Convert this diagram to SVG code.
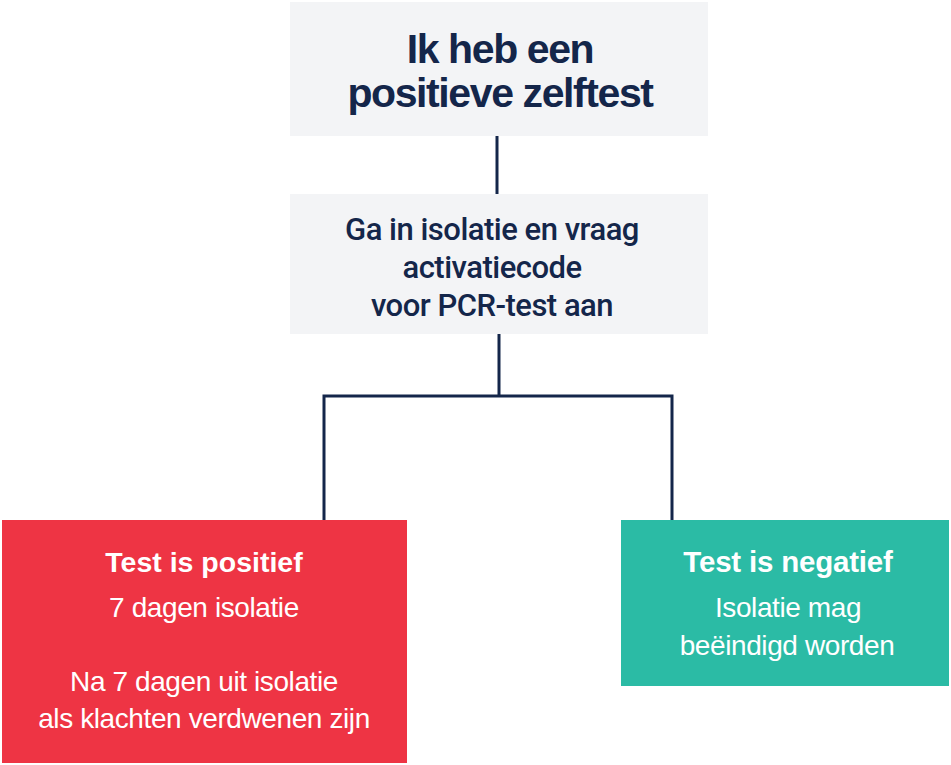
<svg xmlns="http://www.w3.org/2000/svg" width="951" height="765" viewBox="0 0 951 765">
<style>
.gray{fill:#f3f4f6}
.conn{fill:none;stroke:#14264a;stroke-width:3}
.t{font-family:"Liberation Sans",Arial,sans-serif;text-anchor:middle}
.h1{font-size:41px;font-weight:bold;fill:#14264a;letter-spacing:-1.4px}
.h2{font-family:Roboto,"Liberation Sans",sans-serif;font-size:31px;font-weight:500;fill:#14264a;letter-spacing:-0.5px}
.hb{font-size:28.5px;font-weight:bold;fill:#fff;letter-spacing:0px}
.hb2{font-size:29.5px;font-weight:bold;fill:#fff;letter-spacing:-0.2px}
.hr{font-size:28px;fill:#fff;letter-spacing:-0.4px}
</style>
<rect width="951" height="765" fill="#fff"/>
<g id="connectors">
<line class="conn" x1="497" y1="135" x2="497" y2="195"/>
<path class="conn" d="M499 334 V396 M324 520 V396 H672 V520"/>
</g>
<g id="start">
<rect class="gray" x="290" y="2" width="418" height="134"/>
<text class="t h1" x="500" y="63">Ik heb een</text>
<text class="t h1" x="500" y="107">positieve zelftest</text>
</g>
<g id="isolatie">
<rect class="gray" x="290" y="194" width="418" height="140"/>
<text class="t h2" x="492" y="240">Ga in isolatie en vraag</text>
<text class="t h2" x="492" y="278">activatiecode</text>
<text class="t h2" x="492" y="316">voor PCR-test aan</text>
</g>
<g id="positief">
<rect x="2" y="520" width="405" height="243" fill="#ee3444"/>
<text class="t hb" x="204" y="572">Test is positief</text>
<text class="t hr" x="204" y="617">7 dagen isolatie</text>
<text class="t hr" x="204" y="691">Na 7 dagen uit isolatie</text>
<text class="t hr" x="204" y="728">als klachten verdwenen zijn</text>
</g>
<g id="negatief">
<rect x="621" y="520" width="328" height="166" fill="#2bbba5"/>
<text class="t hb2" x="788" y="572">Test is negatief</text>
<text class="t hr" x="788" y="617">Isolatie mag</text>
<text class="t hr" x="787" y="655">beëindigd worden</text>
</g>
</svg>
